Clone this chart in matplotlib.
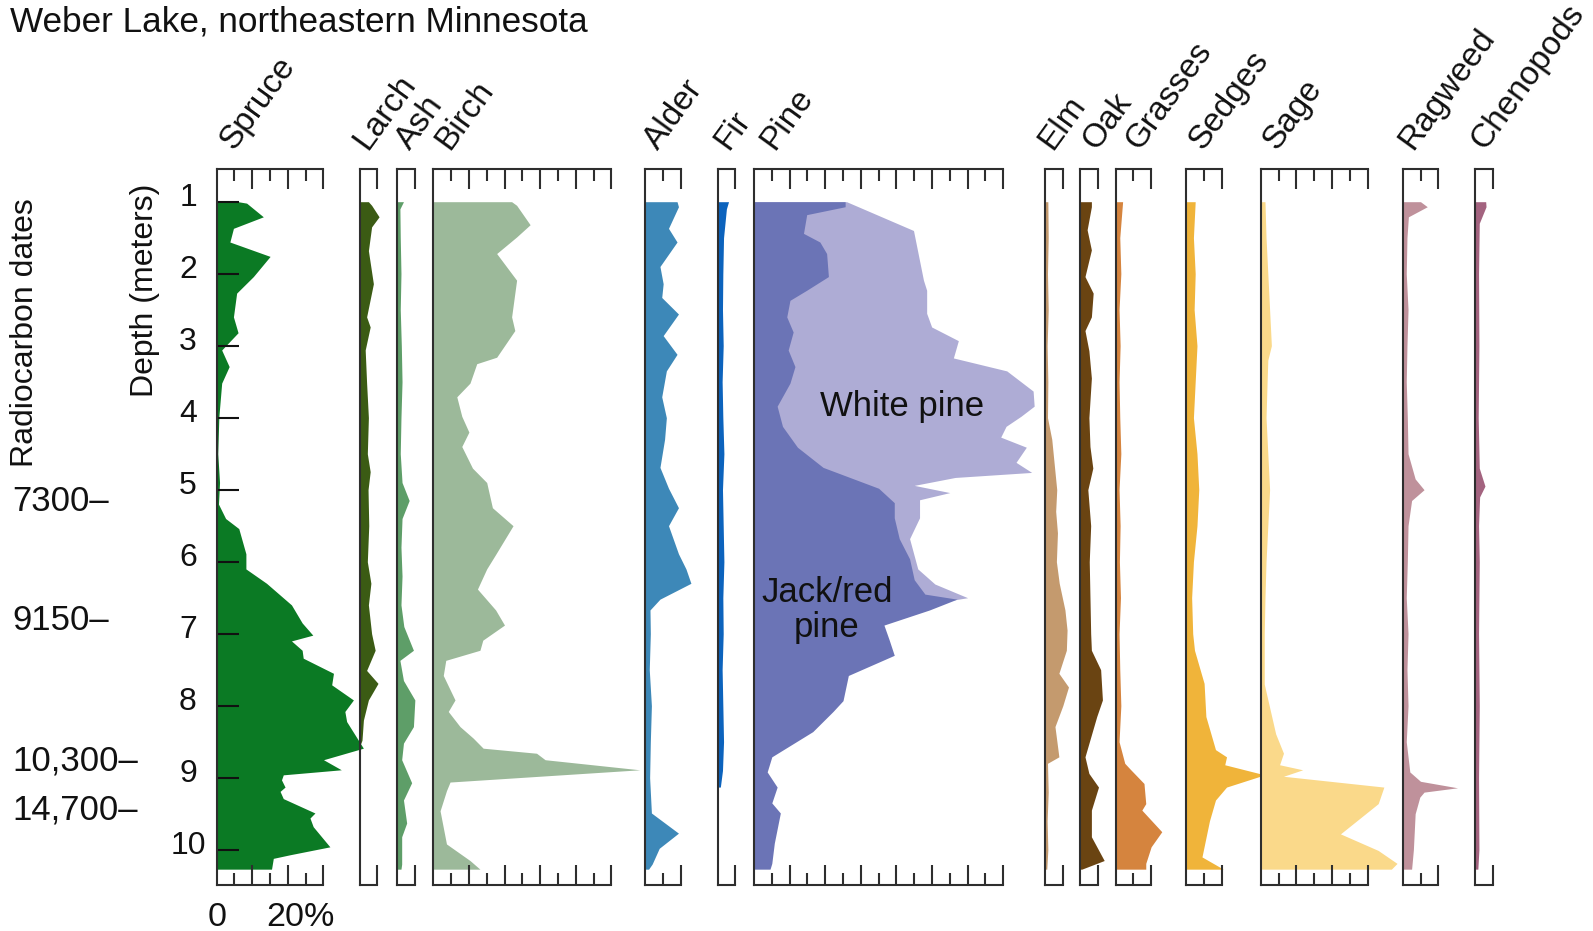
import matplotlib
matplotlib.use('Agg')
import matplotlib.pyplot as plt
import matplotlib.transforms as mtransforms

plt.rcParams['font.family'] = ['Liberation Sans', 'DejaVu Sans']

W, H = 1593, 931
PX_PER_PCT = 3.56          # horizontal scale shared by every panel
PANEL_TOP, PANEL_BOTTOM = 169, 885
DEPTH_TOP, DEPTH_BOTTOM = 0.546, 10.49
LINE = '#2e2e2e'
FS = 23

# ---- pollen percentages, depth in metres ----
spruce_d = [1.0, 1.02, 1.21, 1.37, 1.56, 1.76, 2.04, 2.27, 2.6, 2.82, 3.06, 3.29, 3.52, 3.99, 4.5, 4.9,
            5.2, 5.4, 5.54, 5.89, 6.1, 6.3, 6.6, 6.85, 7.02, 7.1, 7.23, 7.34, 7.55, 7.71, 7.92, 8.08,
            8.22, 8.59, 8.75, 8.89, 8.96, 9.03, 9.13, 9.19, 9.29, 9.49, 9.56, 9.68, 9.96, 10.07, 10.12, 10.27]
spruce_v = [6, 8.4, 13.1, 4.7, 3.7, 15, 10.3, 5.6, 4.7, 6, 1.4, 3.5, 1.4, 0.6, 0.3, 0.8,
            0.5, 2.5, 6.2, 8.2, 8.2, 14, 21, 24, 27, 21, 24, 24.3, 32.8, 32.3, 38.4, 36,
            36.5, 41.2, 30, 35, 18.7, 18.2, 19.2, 17.8, 18.7, 27.6, 26.2, 27.1, 31.8, 20.6, 15.9, 15.4]

larch_d = [1.0, 1.05, 1.21, 1.35, 1.68, 2.14, 2.6, 2.74, 3.06, 3.52, 4.0, 4.5, 4.75, 5.0, 5.5, 6.0,
           6.3, 6.6, 7.0, 7.23, 7.51, 7.69, 7.92, 8.2, 8.48, 8.53]
larch_v = [2.5, 3.4, 5.5, 3.4, 2.5, 3.9, 2.0, 3.0, 1.6, 2.0, 2.5, 2.2, 3.0, 2.4, 2.6, 2.2,
           3.2, 2.5, 3.4, 4.4, 2.0, 5.2, 2.5, 1.1, 0.7, 0.3]

ash_d = [1.0, 1.1, 1.5, 2.0, 2.5, 3.0, 3.5, 4.0, 4.5, 4.9, 5.15, 5.4, 5.8, 6.2, 6.6, 6.9, 7.23,
         7.37, 7.65, 7.92, 8.29, 8.52, 8.75, 9.07, 9.31, 9.63, 9.82, 10.2, 10.27]
ash_v = [1.9, 0.9, 1.0, 1.2, 1.0, 1.3, 1.5, 1.2, 1.0, 1.5, 3.5, 1.5, 1.2, 1.5, 1.2, 2.0, 4.7,
         0.9, 1.9, 5.1, 4.7, 1.9, 1.4, 4.2, 1.9, 2.8, 1.4, 1.4, 1.2]

birch_d = [1.0, 1.05, 1.32, 1.49, 1.72, 2.09, 2.6, 2.79, 3.16, 3.25, 3.52, 3.71, 3.98, 4.2, 4.4,
           4.7, 4.9, 5.25, 5.5, 5.9, 6.1, 6.38, 6.67, 6.88, 7.09, 7.23, 7.37, 7.58, 7.92, 8.08,
           8.29, 8.45, 8.59, 8.66, 8.75, 8.89, 9.06, 9.18, 9.46, 9.92, 10.15, 10.27]
birch_v = [22, 23.4, 27.2, 23.4, 17.8, 23.4, 22, 22.9, 17.8, 12.2, 10.3, 6.6, 8, 10, 8,
           11, 15, 16.6, 22.4, 17.5, 15, 12.4, 17.5, 20, 13.9, 13.1, 3.5, 2.8, 6.1, 4.2,
           7.5, 11.2, 14, 29, 31.4, 58, 4.7, 3.7, 1.9, 3.7, 10.3, 13.1]

alder_d = [1.0, 1.07, 1.37, 1.56, 1.9, 2.14, 2.33, 2.56, 2.86, 3.12, 3.35, 3.71, 4.0, 4.3, 4.69,
           4.98, 5.25, 5.5, 5.89, 6.1, 6.3, 6.52, 6.67, 7.0, 7.5, 8.0, 8.5, 9.0, 9.49, 9.77,
           9.98, 10.2, 10.27]
alder_v = [9.0, 9.4, 6.6, 9.0, 4.2, 5.1, 4.7, 9.4, 5.1, 9.0, 6.0, 4.7, 6.0, 5.5, 4.2,
           6.6, 9.4, 6.6, 9.4, 11.5, 12.9, 4.2, 1.4, 1.5, 1.2, 1.8, 1.5, 1.3, 1.8, 9.4,
           4.0, 2.0, 1.0]

fir_d = [1.0, 1.1, 1.5, 2.0, 2.5, 3.0, 3.5, 4.0, 4.5, 5.0, 5.5, 6.0, 6.5, 7.0, 7.5, 8.0, 8.5, 8.9, 9.13]
fir_v = [3.1, 2.5, 1.7, 1.5, 1.4, 1.6, 1.3, 1.5, 1.8, 1.4, 1.6, 1.8, 1.5, 1.6, 1.3, 1.5, 1.7, 1.4, 0.8]

# pine: total (white + jack/red) and the jack/red part on its own
pine_total_d = [1.0, 1.4, 2.09, 2.23, 2.55, 2.74, 2.93, 3.17, 3.35, 3.63, 3.84, 3.98, 4.12, 4.27,
                4.41, 4.62, 4.76, 4.83, 4.94, 5.04, 5.14, 5.39, 5.68, 6.1, 6.31, 6.5, 6.62]
pine_total_v = [26, 44.8, 47.6, 48.5, 48.5, 49.9, 57.4, 56, 71, 78.4, 78.7, 75, 70.8, 69.3,
                76.5, 73.6, 78, 56.5, 45, 55, 46.5, 46.5, 43.7, 46, 50.8, 60, 45]
jack_d = [1.0, 1.07, 1.18, 1.44, 1.56, 1.72, 2.04, 2.23, 2.37, 2.6, 2.81, 3.06, 3.29, 3.52, 3.84,
          4.12, 4.41, 4.69, 4.98, 5.18, 5.39, 5.68, 5.96, 6.25, 6.45, 6.52, 6.67, 6.88, 7.09,
          7.3, 7.58, 7.93, 8.08, 8.36, 8.71, 8.92, 9.13, 9.35, 9.49, 9.91, 10.19, 10.27]
jack_v = [25.6, 25.6, 14.8, 13.9, 18.5, 20.4, 20.9, 14.8, 10.1, 9.2, 11, 9.6, 11.5, 10.1, 6.5,
          8, 12.2, 19.4, 35, 39.4, 39.4, 40.8, 43.7, 45, 48, 57, 49.3, 36.5, 38,
          39.4, 26.5, 25, 22.2, 16.5, 5, 3.7, 6.5, 5, 7.4, 5.7, 5, 4.5]

elm_d = [1.0, 1.5, 2.0, 2.5, 3.0, 3.5, 4.0, 4.3, 4.6, 5.0, 5.3, 5.6, 6.0, 6.3, 6.67, 6.95, 7.23,
         7.55, 7.74, 8.0, 8.29, 8.71, 8.8, 9.2, 9.6, 10.0, 10.27]
elm_v = [0.8, 0.9, 0.7, 0.9, 0.6, 0.8, 0.7, 1.9, 2.5, 3.3, 3.0, 3.5, 3.2, 4.0, 5.6, 6.2, 6.0,
         3.9, 6.6, 5.0, 2.8, 3.9, 0.7, 0.9, 0.6, 0.8, 0.5]

oak_d = [1.0, 1.07, 1.39, 1.67, 2.04, 2.27, 2.6, 2.79, 3.07, 3.45, 4.0, 4.4, 4.7, 5.0, 5.5, 6.0,
         6.5, 7.0, 7.23, 7.5, 7.92, 8.15, 8.71, 8.94, 9.13, 9.45, 9.82, 10.15, 10.27]
oak_v = [3.2, 3.2, 2.0, 3.2, 1.4, 3.7, 3.2, 1.4, 2.5, 3.2, 2.5, 2.8, 3.6, 2.2, 3.0, 2.6,
         2.8, 3.0, 3.2, 5.8, 6.3, 4.7, 1.4, 2.5, 5.2, 3.2, 3.2, 6.8, 0.5]

grasses_d = [1.0, 1.5, 2.0, 2.5, 3.0, 3.5, 4.0, 4.5, 5.0, 5.5, 6.0, 6.5, 7.0, 7.5, 8.0, 8.5, 8.8,
             8.89, 9.08, 9.36, 9.45, 9.75, 9.96, 10.19, 10.27]
grasses_v = [2.0, 1.2, 1.5, 1.0, 1.3, 1.0, 1.2, 1.5, 1.0, 1.3, 1.1, 1.4, 1.0, 1.2, 1.5, 1.0, 2.6,
             4.3, 8.0, 8.5, 7.4, 13, 10, 8.5, 8.5]

sedges_d = [1.0, 1.5, 2.0, 2.5, 3.0, 3.5, 4.0, 4.5, 5.0, 5.5, 6.0, 6.5, 7.0, 7.23, 7.69, 8.15,
            8.61, 8.71, 8.82, 8.96, 9.13, 9.31, 9.6, 10.1, 10.27]
sedges_v = [2.5, 2.0, 2.5, 2.2, 3.0, 2.5, 2.0, 3.0, 3.5, 3.0, 2.0, 1.5, 1.8, 2.3, 5.0, 5.5,
            8.2, 11.3, 10.8, 22, 11.3, 8.2, 6.5, 4.4, 10.4]

sage_d = [1.0, 1.5, 2.0, 2.5, 3.0, 3.2, 3.5, 4.0, 4.5, 5.0, 5.5, 6.0, 6.5, 7.0, 7.23, 7.7, 8.39,
          8.66, 8.82, 8.89, 8.98, 9.13, 9.36, 9.78, 10.01, 10.19, 10.27]
sage_v = [1.2, 1.5, 2.0, 2.5, 3.0, 2.0, 1.8, 1.5, 2.0, 2.5, 2.0, 1.5, 1.2, 1.0, 1.0, 1.0, 4.2,
          6.4, 5.3, 11.8, 6.4, 34.6, 33, 22.4, 33, 38.3, 36.7]

ragweed_d = [1.0, 1.07, 1.21, 1.5, 2.0, 2.5, 3.0, 3.5, 4.0, 4.5, 4.85, 5.0, 5.15, 5.5, 6.0, 6.5,
             7.0, 7.5, 8.0, 8.5, 8.92, 9.05, 9.14, 9.2, 9.27, 9.5, 10.0, 10.27]
ragweed_v = [5.0, 6.9, 1.6, 1.2, 1.0, 1.5, 1.2, 1.0, 1.3, 1.5, 3.5, 6.0, 2.5, 1.5, 1.3, 1.0,
             1.5, 1.2, 1.5, 1.0, 2.0, 5.0, 15.4, 6.0, 4.8, 3.5, 3.0, 2.5]

cheno_d = [1.0, 1.07, 1.3, 2.0, 3.0, 4.0, 4.7, 4.95, 5.1, 5.5, 6.0, 7.0, 8.0, 9.0, 10.0, 10.27]
cheno_v = [3.0, 3.1, 1.2, 1.0, 1.1, 0.9, 1.2, 2.8, 1.3, 1.0, 1.2, 1.0, 1.2, 1.0, 1.1, 0.8]

depth_ticks = [1, 2, 3, 4, 5, 6, 7, 8, 9, 10]
radiocarbon_ages = ['7300', '9150', '10,300', '14,700']
radiocarbon_depths = [5.17, 6.82, 8.77, 9.45]

# name, left edge (px), axis max (%), label x (px), colour, depths, values
panels = [
    ('Spruce', 216.7, 30, 234, '#0b7a24', spruce_d, spruce_v),
    ('Larch', 359.5, 5, 367, '#3b5b14', larch_d, larch_v),
    ('Ash', 396.7, 5, 410, '#5e9e68', ash_d, ash_v),
    ('Birch', 433.3, 50, 449, '#9cb99a', birch_d, birch_v),
    ('Alder', 645, 10, 658, '#3d88b8', alder_d, alder_v),
    ('Fir', 717.5, 5, 728, '#0c63bd', fir_d, fir_v),
    ('Pine', 754, 70, 774, None, None, None),
    ('Elm', 1045, 5, 1052, '#c49a6e', elm_d, elm_v),
    ('Oak', 1080, 5, 1096, '#6a4412', oak_d, oak_v),
    ('Grasses', 1115.5, 10, 1139, '#d5843e', grasses_d, grasses_v),
    ('Sedges', 1186.3, 10, 1203, '#f0b43a', sedges_d, sedges_v),
    ('Sage', 1260.7, 30, 1277, '#fad98a', sage_d, sage_v),
    ('Ragweed', 1402.7, 10, 1413, '#bf919b', ragweed_d, ragweed_v),
    ('Chenopods', 1475, 5, 1485, '#a3637f', cheno_d, cheno_v),
]


def make_panel(fig, left, maxpct):
    width = maxpct * PX_PER_PCT
    ax = fig.add_axes([left / W, 1 - PANEL_BOTTOM / H, width / W, (PANEL_BOTTOM - PANEL_TOP) / H])
    ax.set_facecolor('none')
    ax.set_xlim(0, maxpct)
    ax.set_ylim(DEPTH_BOTTOM, DEPTH_TOP)
    major = list(range(10, maxpct + 1, 10))
    if maxpct % 10:
        major.append(maxpct)
    minor = [m for m in range(5, maxpct, 10)]
    ax.set_xticks(major)
    ax.set_xticks(minor, minor=True)
    ax.tick_params(axis='x', which='both', direction='in', top=True, bottom=True,
                   labelbottom=False, labeltop=False, width=1.5, color=LINE)
    ax.tick_params(axis='x', which='major', length=14.4)
    ax.tick_params(axis='x', which='minor', length=8.6)
    ax.set_yticks([])
    ax.spines['right'].set_visible(False)
    for s in ('left', 'top', 'bottom'):
        ax.spines[s].set_linewidth(1.5)
        ax.spines[s].set_color(LINE)
    return ax


fig = plt.figure(figsize=(W / 100, H / 100), dpi=100)
fig.patch.set_facecolor('white')

axes = {}
for name, left, maxpct, lx, color, d, v in panels:
    ax = make_panel(fig, left, maxpct)
    axes[name] = ax
    if name == 'Pine':
        ax.fill_betweenx(pine_total_d, 0, pine_total_v, color='#aeacd5', lw=0, clip_on=False, zorder=1)
        ax.fill_betweenx(jack_d, 0, jack_v, color='#6b74b6', lw=0, clip_on=False, zorder=1.1)
        ax.text(41.6, 3.84, 'White pine', ha='center', va='center', fontsize=25, color='#111111')
        ax.text(20.5, 6.67, 'Jack/red\npine', ha='center', va='center', fontsize=25,
                color='#111111', linespacing=1.1)
    else:
        ax.fill_betweenx(d, 0, v, color=color, lw=0, clip_on=False, zorder=1)
    fig.text(lx / W, 1 - 151 / H, name, rotation=54, rotation_mode='anchor',
             ha='left', va='baseline', fontsize=24, color='#111111')

# depth scale on the spruce panel
sp = axes['Spruce']
sp.set_yticks(depth_ticks)
sp.tick_params(axis='y', which='major', direction='in', left=True, right=False,
               labelleft=False, length=16, width=1.5, color='#111111')
lift = mtransforms.ScaledTranslation(0, 4 / 100, fig.dpi_scale_trans)
num_tr = mtransforms.blended_transform_factory(fig.transFigure, sp.transData) + lift
for dep in depth_ticks:
    fig.text(188 / W, dep, str(dep), transform=num_tr, ha='center', va='center',
             fontsize=FS, color='#111111')

date_tr = mtransforms.blended_transform_factory(fig.transFigure, sp.transData)
for age, dep in zip(radiocarbon_ages, radiocarbon_depths):
    fig.text(12 / W, dep, age + '\u2013', transform=date_tr, ha='left', va='center',
             fontsize=25, color='#111111')

bottom_tr = mtransforms.blended_transform_factory(sp.transData, fig.transFigure)
fig.text(0, 1 - 917 / H, '0', transform=bottom_tr, ha='center', va='center', fontsize=24.5, color='#111111')
fig.text(13.85, 1 - 917 / H, '20%', transform=bottom_tr, ha='left', va='center', fontsize=24.5, color='#111111')

fig.text(25 / W, 1 - 333 / H, 'Radiocarbon dates', rotation=90, ha='center', va='center',
         fontsize=FS, color='#111111')
fig.text(145 / W, 1 - 290 / H, 'Depth (meters)', rotation=90, ha='center', va='center',
         fontsize=FS, color='#111111')
fig.text(10 / W, 1 - 22 / H, 'Weber Lake, northeastern Minnesota', ha='left', va='center',
         fontsize=25.3, color='#111111')

fig.savefig('out.png', dpi=100, facecolor='white')
